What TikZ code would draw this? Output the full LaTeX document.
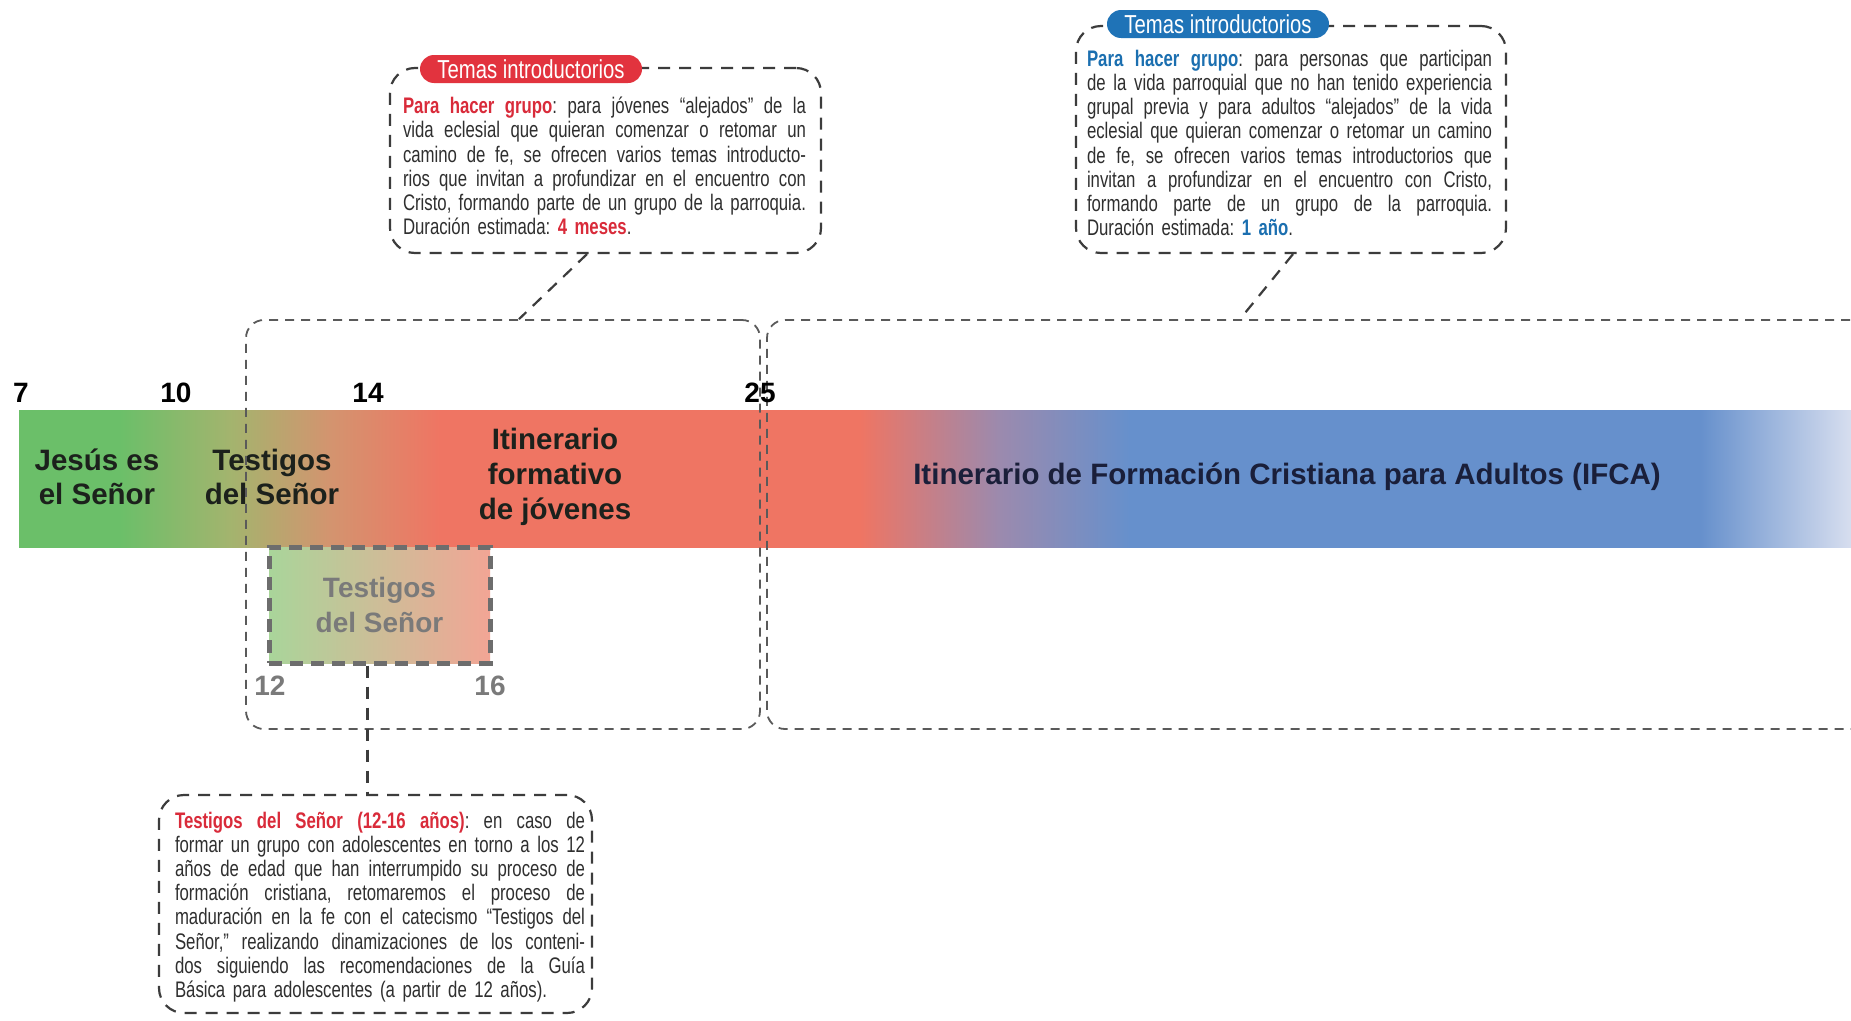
\documentclass[tikz,border=0pt]{standalone}
\usepackage{fontspec}
\setmainfont{Liberation Sans}
\newfontfamily\condfont{Liberation Sans}[FakeStretch=0.78]
\newfontfamily\bodycond{Liberation Sans}[FakeStretch=0.745]
\usetikzlibrary{calc}
\definecolor{gA}{HTML}{6BBF69}
\definecolor{gB}{HTML}{A3B46E}
\definecolor{gC}{HTML}{D3946F}
\definecolor{rR}{HTML}{EF7563}
\definecolor{pP}{HTML}{9B8AAE}
\definecolor{bB}{HTML}{6690CC}
\definecolor{bL}{HTML}{D7DEEF}
\definecolor{tred}{HTML}{D92B3A}
\definecolor{tblue}{HTML}{1B6FB0}
\definecolor{pred}{HTML}{E2333E}
\definecolor{pblue}{HTML}{1F73B7}
\definecolor{txt}{HTML}{2F2F2F}
\definecolor{lab}{HTML}{1C211C}
\definecolor{ifca}{HTML}{1A1F3A}
\definecolor{grayt}{HTML}{7A7A7A}
\definecolor{dashA}{HTML}{5A5A5A}
\definecolor{dashB}{HTML}{3C3C3C}
\definecolor{dashC}{HTML}{6D6D6D}
\definecolor{ibL}{HTML}{A9D59A}
\definecolor{ibM}{HTML}{E3B49A}
\definecolor{ibR}{HTML}{F2A595}
\pgfdeclarehorizontalshading{barsh}{100bp}{color(0bp)=(gA); color(27.757bp)=(gA); color(30.759bp)=(gB); color(33.488bp)=(gC); color(36.49bp)=(rR); color(47.953bp)=(rR); color(51.774bp)=(pP); color(55.322bp)=(bB); color(70.879bp)=(bB); color(75bp)=(bL); color(100bp)=(bL)}
\newcommand\jlA[1]{{\spaceskip=0pt\xspaceskip=0pt\makebox[403pt][s]{#1}}}
\newcommand\jlB[1]{{\spaceskip=0pt\xspaceskip=0pt\makebox[405pt][s]{#1}}}
\newcommand\jlC[1]{{\spaceskip=0pt\xspaceskip=0pt\makebox[410pt][s]{#1}}}
\newcommand\bodyfont{\bodycond\fontsize{22.5}{24.2}\selectfont\frenchspacing}
\begin{document}
\begin{tikzpicture}[x=1pt,y=-1pt,
  bigbox/.style={draw=dashA, line width=1.8pt, dash pattern=on 9pt off 7pt, rounded corners=18pt, inner sep=0pt},
  callbox/.style={draw=dashB, line width=2.2pt, dash pattern=on 12pt off 9pt, rounded corners=25pt, inner sep=0pt},
  conn/.style={draw=dashB, line width=2.2pt, dash pattern=on 12pt off 9pt},
  pill/.style={rounded corners=14pt, minimum width=222pt, minimum height=28pt, inner sep=0pt, text=white, font=\condfont\fontsize{26}{28}\selectfont},
  body/.style={inner sep=0pt, align=left, text=txt, text width=#1, font=\bodyfont},
  barlab/.style={inner sep=0pt, align=center, text=lab, font=\bfseries\fontsize{29.5}{34}\selectfont},
  num/.style={inner sep=0pt, text=black, font=\bfseries\fontsize{28}{30}\selectfont},
  gnum/.style={inner sep=0pt, text=grayt, font=\bfseries\fontsize{28}{30}\selectfont}
]
\useasboundingbox (0,0) rectangle (1851,1020);
\clip (0,0) rectangle (1851,1020);
\fill[white] (0,0) rectangle (1851,1020);

% --- timeline bar ---
\shade[shading=barsh] (19,410) rectangle (1851,547);

\node[barlab] (jes) at (97,477) {Jesús es\\el Señor};
\node[barlab] (tes) at (272,477) {Testigos\\del Señor};
\node[barlab, font=\bfseries\fontsize{29.5}{35}\selectfont] (itj) at (555,477) {Itinerario\\formativo\\de jóvenes};
\node[barlab, text=ifca] (ifc) at (1287,477) {Itinerario de Formación Cristiana para Adultos (IFCA)};

% --- inner box ---
\node[draw=dashC, line width=5pt, dash pattern=on 13pt off 8pt,
      left color=ibL, middle color=ibM, right color=ibR,
      minimum width=221pt, minimum height=116pt, inner sep=0pt,
      align=center, text=grayt, font=\bfseries\fontsize{28}{35}\selectfont]
      (ib) at (379.5,605) {Testigos\\del Señor};

% --- big dashed boxes ---
\node[bigbox, minimum width=514pt, minimum height=409pt] (b1) at (503,524.5) {};
\node[bigbox, minimum width=1133pt, minimum height=409pt] (b2) at (1333.5,524.5) {};

% --- numbers ---
\node[num] (n7) at (21,393) {7};
\node[num] (n10) at (176,393) {10};
\node[num] (n14) at (368,393) {14};
\node[num] (n25) at (760,393) {25};
\node[gnum] (n12) at (270,686) {12};
\node[gnum] (n16) at (490,686) {16};

% --- callout 1 ---
\node[callbox, minimum width=431pt, minimum height=185pt] (c1) at (605.5,160.5) {};
\node[pill, fill=pred] (p1) at (531,69) {Temas introductorios};
\node[body=403pt] (t1) at (604.5,166) {%
\jlA{{\bfseries\color{tred}Para hacer grupo}: para jóvenes “alejados” de la}\\
\jlA{vida eclesial que quieran comenzar o retomar un}\\
\jlA{camino de fe, se ofrecen varios temas introducto-}\\
\jlA{rios que invitan a profundizar en el encuentro con}\\
\jlA{Cristo, formando parte de un grupo de la parroquia.}\\
Duración estimada: {\bfseries\color{tred}4 meses}.};

% --- callout 2 ---
\node[callbox, minimum width=430pt, minimum height=227pt] (c2) at (1291,139.5) {};
\node[pill, fill=pblue] (p2) at (1218,24) {Temas introductorios};
\node[body=405pt] (t2) at (1289.5,143) {%
\jlB{{\bfseries\color{tblue}Para hacer grupo}: para personas que participan}\\
\jlB{de la vida parroquial que no han tenido experiencia}\\
\jlB{grupal previa y para adultos “alejados” de la vida}\\
\jlB{eclesial que quieran comenzar o retomar un camino}\\
\jlB{de fe, se ofrecen varios temas introductorios que}\\
\jlB{invitan a profundizar en el encuentro con Cristo,}\\
\jlB{formando parte de un grupo de la parroquia.}\\
Duración estimada: {\bfseries\color{tblue}1 año}.};

% --- callout 3 ---
\node[callbox, minimum width=433pt, minimum height=218pt] (c3) at (375.5,904) {};
\node[body=410pt] (t3) at (380,907) {%
\jlC{{\bfseries\color{tred}Testigos del Señor (12-16 años)}: en caso de}\\
\jlC{formar un grupo con adolescentes en torno a los 12}\\
\jlC{años de edad que han interrumpido su proceso de}\\
\jlC{formación cristiana, retomaremos el proceso de}\\
\jlC{maduración en la fe con el catecismo “Testigos del}\\
\jlC{Señor,” realizando dinamizaciones de los conteni-}\\
\jlC{dos siguiendo las recomendaciones de la Guía}\\
Básica para adolescentes (a partir de 12 años).};

% --- connectors ---
\coordinate (k1) at ([xshift=-18.5pt]c1.south);
\coordinate (k1b) at ([xshift=16pt]b1.north);
\draw[conn] (k1) -- (k1b);
\coordinate (k2) at ([xshift=2pt]c2.south);
\coordinate (k2b) at ([xshift=-93.5pt]b2.north);
\draw[conn] (k2) -- (k2b);
\coordinate (k3) at ([xshift=-12pt]ib.south);
\draw[conn] (k3) -- (k3 |- c3.north);
\end{tikzpicture}
\end{document}
